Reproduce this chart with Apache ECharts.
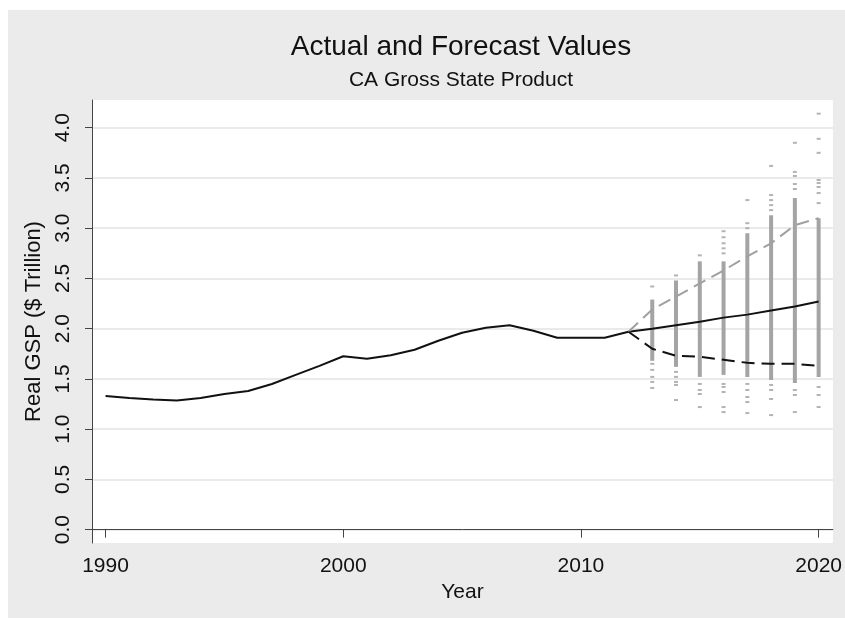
<!DOCTYPE html>
<html>
<head>
<meta charset="utf-8">
<script src="https://cdn.jsdelivr.net/npm/echarts@6/dist/echarts.min.js"></script>
<style>
  html, body { margin: 0; padding: 0; background: #fff; }
  #bg { position: absolute; left: 8px; top: 10px; width: 837px; height: 608px; background: #ebebeb; }
  #chart { position: absolute; left: 0; top: 0; width: 845px; height: 618px; }
</style>
</head>
<body>
<div id="bg"></div>
<div id="chart"></div>
<script>
// actual values 1990-2012
const actualYears = [1990, 1991, 1992, 1993, 1994, 1995, 1996, 1997, 1998, 1999, 2000, 2001,
  2002, 2003, 2004, 2005, 2006, 2007, 2008, 2009, 2010, 2011, 2012]
const actualGsp = [1.33, 1.31, 1.295, 1.285, 1.31, 1.35, 1.38, 1.45, 1.54, 1.63, 1.726, 1.70,
  1.736, 1.79, 1.88, 1.96, 2.01, 2.035, 1.98, 1.91, 1.91, 1.91, 1.97]

// forecast lines 2012-2020
const forecastYears = [2012, 2013, 2014, 2015, 2016, 2017, 2018, 2019, 2020]
const forecastMedian = [1.97, 2.00, 2.035, 2.07, 2.11, 2.14, 2.18, 2.22, 2.27]
const forecastUpper = [1.97, 2.19, 2.32, 2.45, 2.58, 2.72, 2.85, 3.03, 3.10]
const forecastLower = [1.97, 1.80, 1.73, 1.72, 1.69, 1.66, 1.65, 1.65, 1.63]

// simulated draws: dense band per year plus stray points
const drawYears = [2013, 2014, 2015, 2016, 2017, 2018, 2019, 2020]
const denseLow = [1.68, 1.62, 1.52, 1.54, 1.52, 1.49, 1.46, 1.52]
const denseHigh = [2.29, 2.48, 2.67, 2.67, 2.95, 3.13, 3.30, 3.10]
const stray2013 = [2.42, 1.65, 1.59, 1.52, 1.47, 1.41]
const stray2014 = [2.53, 1.57, 1.52, 1.47, 1.44, 1.29]
const stray2015 = [2.73, 1.45, 1.39, 1.35, 1.22]
const stray2016 = [2.97, 2.91, 2.85, 2.80, 2.75, 1.45, 1.42, 1.37, 1.22, 1.17]
const stray2017 = [3.28, 3.05, 3.00, 1.45, 1.39, 1.32, 1.27, 1.16]
const stray2018 = [3.62, 3.33, 3.28, 3.23, 3.18, 1.44, 1.39, 1.30, 1.14]
const stray2019 = [3.85, 3.56, 3.52, 3.44, 3.39, 1.39, 1.34, 1.17]
const stray2020 = [4.14, 3.89, 3.75, 3.48, 3.45, 3.41, 3.35, 3.25, 1.42, 1.34, 1.22]

const xTicks = [1990, 2000, 2010, 2020]
const yTicks = [0, 0.5, 1, 1.5, 2, 2.5, 3, 3.5, 4]

const font = 'Liberation Sans'
const ink = '#111'
const zip = (xs, ys) => xs.map((x, i) => [x, ys[i]])

const strays = [stray2013, stray2014, stray2015, stray2016, stray2017, stray2018, stray2019, stray2020]
const strayPoints = []
strays.forEach((vals, i) => {
  vals.forEach(v => strayPoints.push([drawYears[i], v]))
})
const bands = drawYears.map((y, i) => [y, denseLow[i], denseHigh[i]])

const chart = echarts.init(document.getElementById('chart'))
chart.setOption({
  animation: false,
  textStyle: { fontFamily: font },
  graphic: [
    {
      type: 'text', x: 461, y: 47,
      style: { text: 'Actual and Forecast Values', fontFamily: font, fontSize: 28, fill: ink, align: 'center', verticalAlign: 'middle' }
    },
    {
      type: 'text', x: 461, y: 80,
      style: { text: 'CA Gross State Product', fontFamily: font, fontSize: 21, fill: ink, align: 'center', verticalAlign: 'middle' }
    }
  ],
  grid: {
    left: 92,
    top: 100,
    right: 11,
    bottom: 75,
    show: true,
    backgroundColor: '#fff',
    borderWidth: 0
  },
  xAxis: {
    type: 'value',
    min: 1989.43,
    max: 2020.6,
    name: 'Year',
    nameLocation: 'middle',
    nameGap: 33,
    nameTextStyle: { fontSize: 21, color: ink },
    axisLine: { lineStyle: { color: '#444', width: 1 } },
    axisTick: { customValues: xTicks, length: 8, lineStyle: { color: '#444' } },
    axisLabel: { customValues: xTicks, fontSize: 21, color: ink, margin: 13, formatter: v => String(v) },
    splitLine: { show: false }
  },
  yAxis: {
    type: 'value',
    min: -0.133,
    max: 4.276,
    name: 'Real GSP ($ Trillion)',
    nameLocation: 'middle',
    nameRotate: 90,
    nameGap: 37,
    nameTextStyle: { fontSize: 22, color: ink },
    axisLine: { show: true, lineStyle: { color: '#444', width: 1 } },
    axisTick: { show: true, customValues: yTicks, length: 7, lineStyle: { color: '#444' } },
    axisLabel: {
      customValues: yTicks, fontSize: 21, color: ink, rotate: 90, margin: 18,
      formatter: v => v.toFixed(1)
    },
    splitLine: { show: true, lineStyle: { color: '#e3e3e3', width: 1.5 } }
  },
  series: [
    {
      type: 'custom',
      z: 1,
      silent: true,
      data: bands,
      renderItem: (params, api) => {
        const x = api.value(0)
        const top = api.coord([x, api.value(2)])
        const bot = api.coord([x, api.value(1)])
        return {
          type: 'rect',
          shape: { x: top[0] - 2, y: top[1], width: 4, height: bot[1] - top[1] },
          style: { fill: '#a4a4a4' }
        }
      }
    },
    {
      type: 'scatter',
      z: 1,
      data: strayPoints,
      symbol: 'rect',
      symbolSize: [4, 2],
      itemStyle: { color: '#a0a0a0' }
    },
    {
      type: 'line',
      z: 3,
      data: zip(actualYears, actualGsp),
      showSymbol: false,
      lineStyle: { color: ink, width: 2 }
    },
    {
      type: 'line',
      z: 3,
      data: zip(forecastYears, forecastMedian),
      showSymbol: false,
      lineStyle: { color: ink, width: 2 }
    },
    {
      type: 'line',
      z: 3,
      data: zip(forecastYears, forecastUpper),
      showSymbol: false,
      lineStyle: { color: '#a0a0a0', width: 2, type: [13, 7] }
    },
    {
      type: 'line',
      z: 3,
      data: zip(forecastYears, forecastLower),
      showSymbol: false,
      lineStyle: { color: ink, width: 2, type: [13, 7] }
    }
  ]
})
</script>
</body>
</html>
